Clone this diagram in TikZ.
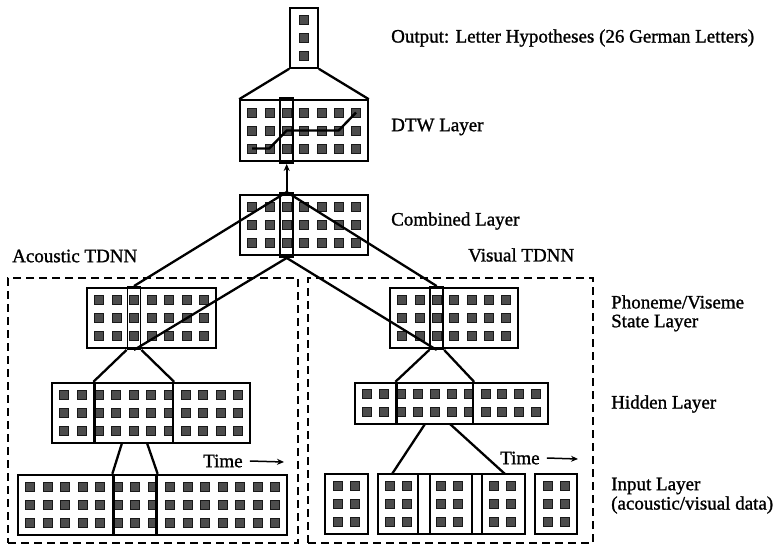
\documentclass[tikz,border=0pt]{standalone}
\usepackage{fontspec}
\setmainfont{Liberation Serif}[FakeBold=1.2]
\usetikzlibrary{arrows.meta,fit}
\tikzset{
  unitsq/.style={fill=black!70, draw=black!90, line width=0.6pt},
  layerbox/.style={draw, line width=1.6pt, inner sep=0pt, rectangle},
  selbox/.style={draw, line width=2.3pt, inner sep=0pt, rectangle},
  colbox/.style={draw, line width=1.9pt, inner sep=0pt, rectangle},
  conn/.style={line width=2.3pt},
  dtwpath/.style={line width=2.4pt, line join=round},
  lbl/.style={anchor=west, inner sep=0pt, font=\fontsize{19}{22}\selectfont},
  tdnnbox/.style={draw, dash pattern=on 8pt off 5pt, line width=1.5pt, inner sep=0pt, rectangle},
  timearrow/.style={line width=1.5pt, -{Stealth[length=7pt,width=6pt]}}
}
% \unitgrid{x0}{y0}{lastcol}{lastrow}{pitchx}{pitchy}
\newcommand\unitgrid[6]{%
  \foreach \ii in {0,...,#3}{\foreach \jj in {0,...,#4}{%
    \filldraw[unitsq] ({#1+\ii*#5-4.5},{#2+\jj*#6-4.5}) rectangle ++(9,9);}}}
\begin{document}
\begin{tikzpicture}[x=1pt,y=-1pt]
\useasboundingbox (0,0) rectangle (779,547);

% ---------- units ----------
\unitgrid{304}{20}{0}{2}{17}{18}            % output
\unitgrid{252}{112.5}{6}{2}{17.33}{18}      % DTW
\unitgrid{252}{207}{6}{2}{17.33}{18}        % combined
\unitgrid{99}{300}{6}{2}{17.5}{18}          % acoustic phoneme
\unitgrid{402}{300}{6}{2}{17.33}{18}        % visual phoneme
\unitgrid{64}{395}{10}{2}{17.4}{18}         % acoustic hidden
\unitgrid{367}{394}{10}{1}{16.9}{18}        % visual hidden
\unitgrid{30}{487}{14}{2}{17.5}{18}         % acoustic input
\unitgrid{338}{486}{1}{2}{17}{18}           % visual input boxes
\unitgrid{389.5}{486}{1}{2}{17}{18}
\unitgrid{441}{486}{1}{2}{17}{18}
\unitgrid{494}{486}{1}{2}{17}{18}
\unitgrid{547.5}{486}{1}{2}{17}{18}

% ---------- layer boxes ----------
\node[layerbox, fit={(290,8) (318,68)}] (out) {};
\node[layerbox, fit={(240,100) (368,161)}] (dtw) {};
\node[colbox, fit={(280.2,98) (293.2,163)}] (dtwcol) {};
\node[layerbox, fit={(240,195) (368,255)}] (cmb) {};
\node[colbox, fit={(280.2,193) (293.2,257)}] (cmbcol) {};

\node[layerbox, fit={(87,288) (216,348)}] (aph) {};
\node[colbox, fit={(127.5,287) (140.5,349)}] (aphcol) {};
\node[layerbox, fit={(390,288) (518,348)}] (vph) {};
\node[colbox, fit={(430.2,287) (443.2,349)}] (vphcol) {};

\node[layerbox, fit={(52,383) (250,443)}] (ahid) {};
\node[selbox, fit={(94.5,383) (173,443)}] (ahidsel) {};
\node[layerbox, fit={(355,383) (548,424)}] (vhid) {};
\node[selbox, fit={(396.5,383) (473,424)}] (vhidsel) {};

\node[layerbox, fit={(18,475) (287,535)}] (ain) {};
\node[selbox, fit={(113.5,475) (156.5,535)}] (ainsel) {};

\node[layerbox, fit={(325,474) (368,534)}] (vin1) {};
\node[selbox, fit={(378,474) (525,534)}] (vinsel) {};
\node[layerbox, fit={(535,474) (577,534)}] (vin5) {};
\draw[line width=1.4pt] (418,474) -- (418,534) (430,474) -- (430,534)
                        (472,474) -- (472,534) (482,474) -- (482,534);

% ---------- TDNN frames ----------
\node[tdnnbox, fit={(8,278) (298,543)}] (atdnn) {};
\node[tdnnbox, fit={(308,278) (593,543)}] (vtdnn) {};

% ---------- DTW path ----------
\coordinate (p1) at (252,148.5);
\coordinate (p2) at (269.3,148.5);
\coordinate (p3) at (286.7,130.5);
\coordinate (p4) at (338.7,130.5);
\coordinate (p5) at (356,112.5);
\draw[dtwpath] (p1) -- (p2) -- (p3) -- (p4) -- (p5);

% ---------- connectors ----------
\draw[conn] (out.south west) -- (dtw.north west);
\draw[conn] (out.south east) -- (dtw.north east);
\draw[conn, -{Stealth[length=7pt,width=6pt]}] (cmbcol.north) -- (dtwcol.south);
\draw[conn] (cmbcol.north) -- (aphcol.north);
\draw[conn] (cmbcol.north) -- (vphcol.north);
\draw[conn] (cmbcol.south) -- (aphcol.south);
\draw[conn] (cmbcol.south) -- (vphcol.south);

\draw[conn] (aphcol.south west) -- (ahidsel.north west);
\draw[conn] (aphcol.south east) -- (ahidsel.north east);
\coordinate (ah1) at (122,443);
\coordinate (ah2) at (147,443);
\draw[conn] (ah1) -- (ainsel.north west);
\draw[conn] (ah2) -- (ainsel.north east);

\draw[conn] (vphcol.south west) -- (vhidsel.north west);
\draw[conn] (vphcol.south east) -- (vhidsel.north east);
\coordinate (vh1) at (425,424);
\coordinate (vh2) at (450,424);
\coordinate (vi1) at (392,474);
\coordinate (vi2) at (505,474);
\draw[conn] (vh1) -- (vi1);
\draw[conn] (vh2) -- (vi2);

% ---------- labels ----------
\node[lbl] (lout) at (391,38) {Output: Letter Hypotheses (26 German Letters)};
\node[lbl] (ldtw) at (391,127) {DTW Layer};
\node[lbl] (lcmb) at (391,221) {Combined Layer};
\node[lbl] (lac) at (12,256) {Acoustic TDNN};
\node[lbl] (lvi) at (468,255) {Visual TDNN};
\node[lbl] (lph1) at (611,302) {Phoneme/Viseme};
\node[lbl] (lph2) at (611,323) {State Layer};
\node[lbl] (lhid) at (611,404) {Hidden Layer};
\node[lbl] (lin1) at (611,486) {Input Layer};
\node[lbl] (lin2) at (611,505) {(acoustic/visual data)};

\node[lbl] (atime) at (203,461) {Time};
\coordinate (atimeend) at (284,462);
\draw[timearrow] ([xshift=7pt]atime.east) -- (atimeend);
\node[lbl] (vtime) at (500,458) {Time};
\coordinate (vtimeend) at (578,459);
\draw[timearrow] ([xshift=7pt]vtime.east) -- (vtimeend);
\end{tikzpicture}
\end{document}
